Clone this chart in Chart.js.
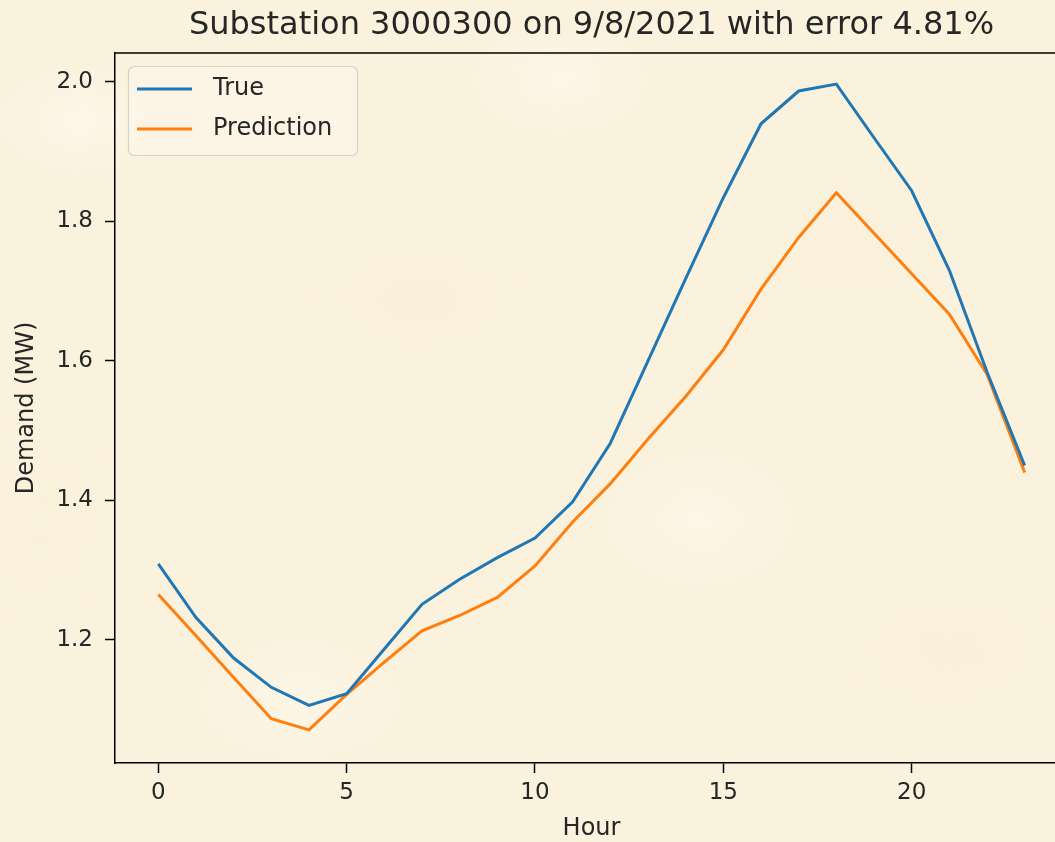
<!DOCTYPE html>
<html>
<head>
<meta charset="utf-8">
<script src="https://cdn.jsdelivr.net/npm/chart.js@4/dist/chart.umd.min.js"></script>
<style>
  html, body { margin: 0; padding: 0; width: 1055px; height: 842px; overflow: hidden; }
  body {
    background-color: #fbf2de;
    background-image:
      radial-gradient(ellipse 120px 80px at 80px 120px, rgba(255,251,242,0.5), rgba(255,251,242,0) 70%),
      radial-gradient(ellipse 160px 90px at 420px 300px, rgba(247,236,208,0.35), rgba(247,236,208,0) 70%),
      radial-gradient(ellipse 140px 100px at 700px 520px, rgba(255,250,240,0.45), rgba(255,250,240,0) 70%),
      radial-gradient(ellipse 180px 110px at 950px 650px, rgba(247,236,208,0.3), rgba(247,236,208,0) 70%),
      radial-gradient(ellipse 150px 90px at 300px 700px, rgba(255,250,238,0.45), rgba(255,250,238,0) 70%),
      radial-gradient(ellipse 170px 100px at 850px 250px, rgba(248,238,212,0.3), rgba(248,238,212,0) 70%),
      radial-gradient(ellipse 130px 80px at 560px 80px, rgba(255,251,243,0.45), rgba(255,251,243,0) 70%),
      radial-gradient(ellipse 120px 160px at 40px 520px, rgba(248,238,210,0.3), rgba(248,238,210,0) 70%);
  }
  #wrap { position: absolute; left: 0; top: 0; width: 1100px; height: 842px; }
</style>
</head>
<body>
<div id="wrap"><canvas id="c" width="1100" height="842"></canvas></div>
<script>
// ---- data ----
const hours = [0,1,2,3,4,5,6,7,8,9,10,11,12,13,14,15,16,17,18,19,20,21,22,23];
const trueVals = [1.309,1.232,1.174,1.132,1.106,1.123,1.187,1.251,1.287,1.318,1.346,1.398,
                  1.482,1.600,1.718,1.834,1.940,1.987,1.997,1.920,1.844,1.730,1.584,1.450];
const predVals = [1.265,1.206,1.146,1.087,1.071,1.122,1.168,1.213,1.235,1.261,1.306,1.369,
                  1.424,1.488,1.549,1.616,1.703,1.777,1.841,1.783,1.725,1.667,1.581,1.440];
const xTicks = [0,5,10,15,20];
const yTicks = [1.2,1.4,1.6,1.8,2.0];
const seriesNames = ['True','Prediction'];
const titleText = 'Substation 3000300 on 9/8/2021 with error 4.81%';
const xLabel = 'Hour';
const yLabel = 'Demand (MW)';

const FONT = "'DejaVu Sans', sans-serif";
const INK = '#262626';

const frameAndLegend = {
  id: 'frameAndLegend',
  afterDatasetsDraw(chart) {
    const {ctx, chartArea: a} = chart;
    ctx.save();
    // top spine (and right spine, which falls outside the visible page)
    ctx.strokeStyle = '#000';
    ctx.lineWidth = 1.5;
    ctx.beginPath();
    ctx.moveTo(a.left, a.top);
    ctx.lineTo(a.right, a.top);
    ctx.lineTo(a.right, a.bottom);
    ctx.stroke();
    // legend
    const lx = a.left + 13, ly = a.top + 13, lw = 229, lh = 89;
    ctx.beginPath();
    ctx.roundRect(lx + 0.5, ly + 0.5, lw, lh, 6);
    ctx.fillStyle = 'rgba(255,252,244,0.3)';
    ctx.fill();
    ctx.strokeStyle = 'rgba(210,208,200,0.9)';
    ctx.lineWidth = 1.2;
    ctx.stroke();
    chart.data.datasets.forEach((ds, i) => {
      const y = ly + 23 + i * 40;
      ctx.strokeStyle = ds.borderColor;
      ctx.lineWidth = 3;
      ctx.beginPath();
      ctx.moveTo(lx + 9, y);
      ctx.lineTo(lx + 64, y);
      ctx.stroke();
      ctx.fillStyle = INK;
      ctx.font = "24px " + FONT;
      ctx.textBaseline = 'middle';
      ctx.textAlign = 'left';
      ctx.fillText(ds.label, lx + 85, y);
    });
    ctx.restore();
  }
};

new Chart(document.getElementById('c'), {
  type: 'line',
  data: {
    datasets: [
      { label: seriesNames[0], data: hours.map((h, i) => ({x: h, y: trueVals[i]})),
        borderColor: '#1f77b4', backgroundColor: '#1f77b4', borderWidth: 3, pointRadius: 0, tension: 0, fill: false },
      { label: seriesNames[1], data: hours.map((h, i) => ({x: h, y: predVals[i]})),
        borderColor: '#ff7f0e', backgroundColor: '#ff7f0e', borderWidth: 3, pointRadius: 0, tension: 0, fill: false }
    ]
  },
  options: {
    responsive: false,
    animation: false,
    devicePixelRatio: 1,
    layout: { padding: { left: 0, right: 32, top: 0, bottom: 0 } },
    plugins: {
      legend: { display: false },
      tooltip: { enabled: false },
      title: {
        display: true, text: titleText, fullSize: false, color: INK,
        font: { family: FONT, size: 32, weight: 'normal', lineHeight: 1.2 },
        padding: { top: 6, bottom: 8.6 }
      }
    },
    scales: {
      x: {
        type: 'linear', min: -1.15, max: 24.15,
        afterBuildTicks: (s) => { s.ticks = xTicks.map(v => ({value: v})); },
        afterFit: (s) => { s.height = 79; },
        grid: { display: true, drawOnChartArea: false, drawTicks: true, tickLength: 10, tickWidth: 1.5, tickColor: '#000' },
        border: { display: true, color: '#000', width: 1.5 },
        ticks: { color: INK, padding: 6, maxRotation: 0, font: { family: FONT, size: 23 }, callback: v => String(v) },
        title: { display: true, text: xLabel, color: INK, font: { family: FONT, size: 24, lineHeight: 1.0 }, padding: { top: 0, bottom: 1 } }
      },
      y: {
        type: 'linear', min: 1.0235, max: 2.0415,
        afterBuildTicks: (s) => { s.ticks = yTicks.map(v => ({value: v})); },
        afterFit: (s) => { s.width = 115; },
        grid: { display: true, drawOnChartArea: false, drawTicks: true, tickLength: 10, tickWidth: 1.5, tickColor: '#000' },
        border: { display: true, color: '#000', width: 1.5 },
        ticks: { color: INK, padding: 12, font: { family: FONT, size: 23 }, callback: v => Number(v).toFixed(1) },
        title: { display: true, text: yLabel, color: INK, font: { family: FONT, size: 24, lineHeight: 1.2 }, padding: { top: 12, bottom: 0 } }
      }
    }
  },
  plugins: [frameAndLegend]
});
</script>
</body>
</html>
